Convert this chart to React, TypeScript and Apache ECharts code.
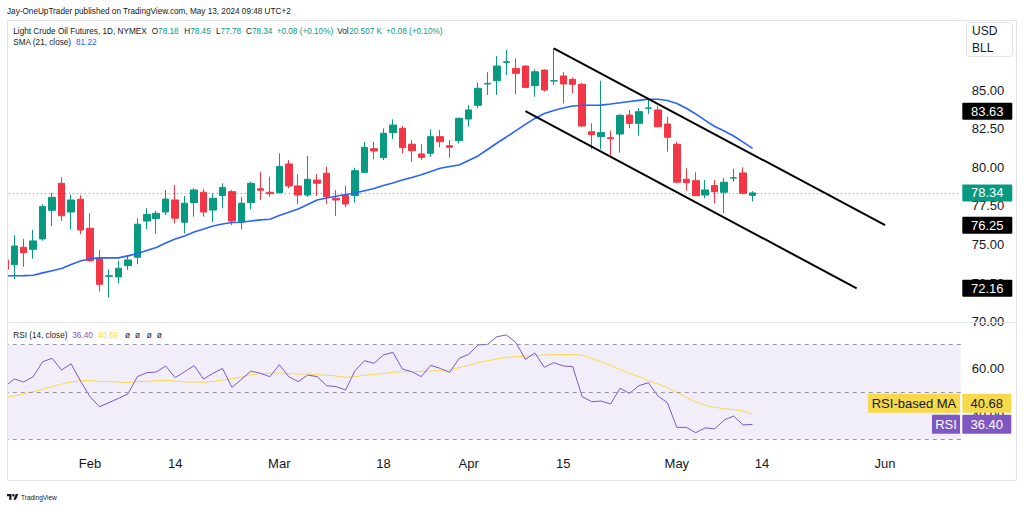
import React, { useEffect, useRef } from 'react';
import * as echarts from 'echarts';

const FONT = "'Liberation Sans', Arial, sans-serif";
const DARK = '#131722';
const UP = '#089981';
const DOWN = '#F23645';
const SMA_COLOR = '#2962FF';
const RSI_COLOR = '#7E57C2';
const RSI_MA_COLOR = '#F7D94C';

const dates = ['Jan 19','Jan 22','Jan 23','Jan 24','Jan 25','Jan 26','Jan 29','Jan 30','Jan 31','Feb 1','Feb 2','Feb 5','Feb 6','Feb 7','Feb 8','Feb 9','Feb 12','Feb 13','Feb 14','Feb 15','Feb 16','Feb 20','Feb 21','Feb 22','Feb 23','Feb 26','Feb 27','Feb 28','Feb 29','Mar 1','Mar 4','Mar 5','Mar 6','Mar 7','Mar 8','Mar 11','Mar 12','Mar 13','Mar 14','Mar 15','Mar 18','Mar 19','Mar 20','Mar 21','Mar 22','Mar 25','Mar 26','Mar 27','Mar 28','Apr 1','Apr 2','Apr 3','Apr 4','Apr 5','Apr 8','Apr 9','Apr 10','Apr 11','Apr 12','Apr 15','Apr 16','Apr 17','Apr 18','Apr 19','Apr 22','Apr 23','Apr 24','Apr 25','Apr 26','Apr 29','Apr 30','May 1','May 2','May 3','May 6','May 7','May 8','May 9','May 10','May 13','May 14','May 15','May 16','May 17','May 20','May 21','May 22','May 23','May 24','May 28','May 29','May 30','May 31','Jun 3','Jun 4','Jun 5','Jun 6','Jun 7','Jun 10','Jun 11','Jun 12','Jun 13'];

const opens = [74.00,73.69,74.82,74.69,75.36,77.21,78.96,77.10,77.93,76.05,74.11,72.94,72.90,73.63,74.17,76.52,76.67,77.10,77.88,76.44,77.71,78.38,77.23,78.16,78.42,76.48,77.71,78.61,78.38,78.35,80.21,78.79,78.20,79.17,79.61,77.99,78.18,78.16,79.67,81.20,80.62,82.24,82.52,81.49,80.86,80.90,81.98,81.39,81.72,83.12,84.01,85.39,85.60,86.79,86.40,86.55,85.28,86.29,85.58,85.91,85.69,85.37,82.30,81.98,81.91,82.15,83.38,82.84,83.82,83.71,82.80,81.49,79.22,79.13,78.20,78.81,78.38,79.30,79.63,78.18];
const highs = [74.25,75.60,75.36,75.94,77.60,78.35,79.35,78.22,78.19,77.02,74.64,73.39,73.95,74.32,76.70,77.34,77.19,78.53,78.85,78.14,78.64,78.59,78.31,78.96,78.53,78.09,79.07,79.71,79.39,80.90,80.47,79.54,80.73,79.56,80.04,78.53,78.79,79.97,81.65,81.65,82.52,83.10,82.67,81.76,81.49,82.46,82.41,81.76,83.20,84.03,85.47,86.15,87.20,87.59,87.05,86.60,86.34,86.34,87.70,86.15,85.80,85.47,82.84,85.60,82.37,83.45,83.71,83.82,84.35,83.96,83.27,81.65,79.93,79.67,79.17,79.17,79.32,79.89,79.99,78.45];
const lows = [73.20,72.75,73.56,74.08,75.25,76.20,76.52,75.98,75.66,73.87,71.95,71.58,72.49,73.35,73.72,76.00,75.68,76.91,76.37,75.72,76.80,76.80,76.44,77.34,76.26,75.98,77.28,77.88,78.09,78.30,78.64,77.62,78.09,78.14,77.62,76.84,77.41,77.71,79.61,80.53,80.47,81.83,80.90,80.36,80.47,80.68,81.29,80.62,81.55,82.62,83.82,84.68,84.68,85.97,84.72,85.11,84.57,84.89,85.32,84.14,84.79,82.59,81.16,81.16,80.79,80.94,82.52,82.04,83.45,82.59,81.01,78.96,78.48,78.14,77.99,77.67,77.02,79.06,78.25,77.78];
const closes = [73.40,74.90,74.47,75.23,77.45,78.05,76.86,77.88,75.94,73.95,72.42,72.97,73.46,74.00,76.31,76.95,77.02,77.94,76.70,77.67,78.53,77.10,77.99,78.68,76.52,77.67,78.96,78.51,78.29,80.04,78.79,78.20,79.22,78.96,78.09,77.88,77.62,79.78,81.29,81.05,82.20,82.73,81.27,81.07,80.64,81.98,81.65,81.29,83.17,83.71,85.11,85.43,86.55,86.83,86.08,85.17,86.18,85.00,85.60,85.39,85.37,82.67,82.11,82.24,81.85,83.36,82.84,83.60,83.84,82.62,81.94,79.03,79.00,78.16,78.53,78.42,79.03,79.32,78.31,78.34];
const volume = '20.507 K';

const sma21 = [72.96,72.97,72.98,73.01,73.16,73.30,73.44,73.70,73.93,74.08,74.13,74.13,74.13,74.26,74.42,74.61,74.81,75.10,75.36,75.55,75.81,76.00,76.20,76.33,76.42,76.44,76.52,76.59,76.63,76.88,77.08,77.30,77.59,77.88,78.01,78.12,78.23,78.33,78.48,78.62,78.82,78.98,79.17,79.34,79.52,79.72,79.93,80.05,80.15,80.44,80.73,81.15,81.57,81.96,82.37,82.77,83.16,83.48,83.67,83.83,83.96,84.01,84.01,84.02,84.09,84.18,84.26,84.33,84.40,84.40,84.32,84.13,83.82,83.45,83.03,82.64,82.35,82.02,81.63,81.22];

const rsi14 = [52.25,55.47,54.21,56.46,62.77,64.18,59.26,61.93,54.60,48.03,43.82,45.51,47.33,49.16,56.46,58.14,58.42,60.95,56.04,58.56,61.09,55.47,57.86,59.96,51.96,55.33,58.84,57.86,56.46,61.51,56.46,54.35,57.16,56.46,52.67,52.25,50.84,58.98,63.19,62.07,65.58,66.70,59.68,58.56,56.46,61.23,59.96,58.28,64.18,65.86,69.79,70.07,73.30,74.00,70.77,63.75,66.42,60.39,62.35,60.95,60.67,48.03,45.93,46.21,44.95,51.54,49.44,52.67,53.93,48.32,45.51,35.12,35.12,32.88,34.90,34.50,38.21,39.89,36.11,36.40];
const rsiMa = [47.61,48.32,49.16,50.14,51.12,52.25,53.37,54.21,54.77,54.91,54.49,54.35,54.21,53.93,54.35,54.49,54.77,54.91,54.63,54.21,54.21,54.07,54.49,55.05,55.61,56.32,57.30,57.72,57.86,58.00,57.72,57.58,57.58,57.30,57.02,56.74,56.18,56.46,57.02,57.44,57.72,58.28,58.56,58.56,58.70,58.84,58.98,59.40,60.25,61.23,62.35,63.19,63.89,64.60,64.88,65.16,65.30,65.58,65.72,65.72,65.86,65.44,64.18,62.77,61.09,59.54,57.86,56.46,54.77,53.37,51.82,49.86,47.75,45.79,44.39,43.54,42.98,42.56,42.00,40.68];

const xTickLabels: Record<string, string> = { 'Feb 1': 'Feb', 'Feb 14': '14', 'Mar 1': 'Mar', 'Mar 18': '18', 'Apr 1': 'Apr', 'Apr 15': '15', 'May 1': 'May', 'May 14': '14', 'Jun 3': 'Jun' };
const priceTicks = [70, 72.5, 75, 77.5, 80, 82.5, 85];
const rsiTicks = [40, 60];
const rsiBands = [70, 50, 30];
const upperChannel: [string, number][] = [['Apr 12', 87.70], ['Jun 3', 76.25]];
const lowerChannel: [string, number][] = [['Apr 9', 83.63], ['May 29', 72.16]];
const channelLabels = [83.63, 76.25, 72.16];

const last = closes.length - 1;
const fmt = (v: number) => v.toFixed(2);

export default function App() {
  const ref = useRef<HTMLDivElement>(null);
  useEffect(() => {
    if (!ref.current) return;
    try {
      echarts.graphic.registerShape('tvlogo', echarts.graphic.extendPath('M14 22H7V11H0V4h14v18zM28 22h-8l7.5-18h8L28 22zM16 8a4 4 0 1 0 8 0a4 4 0 1 0 -8 0z', {}));
    } catch (e) { /* already registered */ }
    const chart = echarts.init(ref.current, null, { renderer: 'svg' });
    const gridLeft = 4.8;
    const gridWidth = 956;
    const candles = opens.map((o, i) => [o, closes[i], lows[i], highs[i]]);
    const chan = (arr: [string, number][]) => arr.map(([d, v]) => [dates.indexOf(d), v]);
    const near = (arr: number[], v: number) => arr.some((t) => Math.abs(t - v) < 1e-6);

    chart.setOption({
      animation: false,
      backgroundColor: '#ffffff',
      grid: [
        { left: gridLeft, top: 12.77, width: gridWidth, height: 308.93, containLabel: false, outerBoundsMode: 'none' },
        { left: gridLeft, top: 320.75, width: gridWidth, height: 130.63, containLabel: false, outerBoundsMode: 'none' },
      ],
      xAxis: [
        { type: 'category', gridIndex: 0, data: dates, boundaryGap: false, show: false },
        {
          type: 'category', gridIndex: 1, data: dates, boundaryGap: false,
          axisLine: { show: false }, axisTick: { show: false }, splitLine: { show: false },
          axisLabel: {
            interval: (_i: number, v: string) => xTickLabels[v] !== undefined,
            formatter: (v: string) => xTickLabels[v] ?? '',
            color: DARK, fontSize: 13, fontFamily: FONT, margin: 6,
          },
        },
      ],
      yAxis: [
        {
          type: 'value', gridIndex: 0, position: 'right', min: 70, max: 90, interval: 2.5,
          axisLine: { show: false }, axisTick: { show: false }, splitLine: { show: false },
          axisLabel: { formatter: (v: number) => (near(priceTicks, v) ? fmt(v) : ''), color: DARK, fontSize: 13, fontFamily: FONT, margin: 11 },
        },
        {
          type: 'value', gridIndex: 1, position: 'right', min: 25, max: 80, interval: 5,
          axisLine: { show: false }, axisTick: { show: false }, splitLine: { show: false },
          axisLabel: { formatter: (v: number) => (near(rsiTicks, v) ? fmt(v) : ''), color: DARK, fontSize: 13, fontFamily: FONT, margin: 11 },
        },
      ],
      series: [
        {
          type: 'candlestick', xAxisIndex: 0, yAxisIndex: 0, data: candles, barWidth: 7,
          itemStyle: { color: UP, color0: DOWN, borderColor: UP, borderColor0: DOWN, borderWidth: 1 },
          markLine: {
            silent: true, symbol: ['none', 'none'], label: { show: false },
            lineStyle: { color: UP, type: [1, 3], width: 1, opacity: 0.8 },
            data: [{ yAxis: closes[last] }],
          },
        },
        { type: 'line', xAxisIndex: 0, yAxisIndex: 0, data: sma21, symbol: 'none', lineStyle: { color: SMA_COLOR, width: 1.6 }, z: 3 },
        { type: 'line', xAxisIndex: 0, yAxisIndex: 0, data: chan(upperChannel), symbol: 'none', lineStyle: { color: '#000000', width: 2 }, z: 4 },
        { type: 'line', xAxisIndex: 0, yAxisIndex: 0, data: chan(lowerChannel), symbol: 'none', lineStyle: { color: '#000000', width: 2 }, z: 4 },
        {
          type: 'line', xAxisIndex: 1, yAxisIndex: 1, data: rsiMa, symbol: 'none', lineStyle: { color: RSI_MA_COLOR, width: 1 }, z: 3,
        },
        {
          type: 'line', xAxisIndex: 1, yAxisIndex: 1, data: rsi14, symbol: 'none', lineStyle: { color: RSI_COLOR, width: 1 }, z: 4,
          markArea: { silent: true, itemStyle: { color: 'rgba(126,87,194,0.1)' }, data: [[{ yAxis: 30 }, { yAxis: 70 }]] },
          markLine: {
            silent: true, symbol: ['none', 'none'], label: { show: false },
            lineStyle: { color: '#9598A1', type: [4, 4], width: 1 },
            data: rsiBands.map((v) => ({ yAxis: v })),
          },
        },
      ],
    });

    const py = (v: number, idx: number) => chart.convertToPixel({ yAxisIndex: idx } as any, v) as number;
    const bx = gridLeft + gridWidth + 1.5;
    const txt = (x: number, y: number, text: string, fill: string, size = 8.2, align = 'left', weight = 'normal') => ({
      type: 'text', x, y, z: 100,
      style: { text, fill, fontSize: size, fontFamily: FONT, align, verticalAlign: 'middle', fontWeight: weight },
    });
    const box = (x: number, y: number, w: number, h: number, fill: string) => ({
      type: 'rect', z: 99, shape: { x, y, width: w, height: h, r: 1 }, style: { fill },
    });
    const priceBox = (v: number, fill: string) => {
      const y = py(v, 0);
      return [box(bx, y - 8.5, 50, 17, fill), txt(bx + 25, y, fmt(v), '#ffffff', 13, 'center')];
    };

    const rsiY = py(rsi14[last], 1);
    const maYc = py(rsiMa[last], 1);
    const rsiTop = rsiY - 9.5;
    const maBottom = Math.min(maYc + 9.5, rsiTop - 2);

    const graphic: any[] = [
      { type: 'rect', z: 90, shape: { x: 0, y: 20, width: 7, height: 461 }, style: { fill: '#ffffff' } },
      { type: 'rect', z: 91, shape: { x: 7.5, y: 20.5, width: 1009, height: 460 }, style: { fill: 'none', stroke: '#E0E3EB', lineWidth: 1 } },
      { type: 'line', z: 91, shape: { x1: 7, y1: 322.5, x2: 1017, y2: 322.5 }, style: { stroke: '#E0E3EB', lineWidth: 1 } },
      txt(7, 11, 'Jay-OneUpTrader published on TradingView.com, May 13, 2024 09:48 UTC+2', DARK),
      txt(13.3, 31, 'Light Crude Oil Futures, 1D, NYMEX', DARK),
      txt(151.7, 31, 'O', DARK), txt(158.1, 31, fmt(opens[last]), UP),
      txt(184.3, 31, 'H', DARK), txt(190.2, 31, fmt(highs[last]), UP),
      txt(216, 31, 'L', DARK), txt(220.6, 31, fmt(lows[last]), UP),
      txt(246, 31, 'C', DARK), txt(251.9, 31, fmt(closes[last]), UP),
      txt(276.7, 31, '+0.08 (+0.10%)', UP),
      txt(337.3, 31, 'Vol', DARK), txt(349.2, 31, volume, UP),
      txt(386, 31, '+0.08 (+0.10%)', UP),
      txt(13.3, 42.3, 'SMA (21, close)', DARK), txt(76, 42.3, fmt(sma21[last]), SMA_COLOR),
      txt(13.3, 335, 'RSI (14, close)', DARK), txt(72.3, 335, fmt(rsi14[last]), RSI_COLOR), txt(97.7, 335, fmt(rsiMa[last]), RSI_MA_COLOR),
      txt(125, 335, 'ø', DARK), txt(135, 335, 'ø', DARK), txt(146.7, 335, 'ø', DARK), txt(156.7, 335, 'ø', DARK),
      { type: 'rect', z: 99, shape: { x: 966.5, y: 22.5, width: 46, height: 34, r: 3 }, style: { fill: '#ffffff', stroke: '#E0E3EB', lineWidth: 1 } },
      txt(972, 31, 'USD', DARK, 12), txt(972, 48.3, 'BLL', DARK, 12),
      ...priceBox(closes[last], UP),
      ...channelLabels.flatMap((v) => priceBox(v, '#000000')),
      box(868, maBottom - 19, 92, 19, RSI_MA_COLOR), txt(914, maBottom - 9.5, 'RSI-based MA', DARK, 13, 'center'),
      box(bx, maBottom - 19, 49, 19, RSI_MA_COLOR), txt(bx + 24.5, maBottom - 9.5, fmt(rsiMa[last]), DARK, 13, 'center'),
      box(932, rsiTop, 28, 19, RSI_COLOR), txt(946, rsiY, 'RSI', '#ffffff', 13, 'center'),
      box(bx, rsiTop, 49, 19, RSI_COLOR), txt(bx + 24.5, rsiY, fmt(rsi14[last]), '#ffffff', 13, 'center'),
      { type: 'tvlogo', z: 100, x: 7, y: 492.8, scaleX: 0.32, scaleY: 0.32, style: { fill: DARK } },
      txt(21, 497, 'TradingView', DARK, 6.5),
    ];
    chart.setOption({ graphic });
    return () => chart.dispose();
  }, []);
  return <div ref={ref} style={{ position: 'fixed', left: 0, top: 0, width: 1024, height: 506, background: '#ffffff' }} />;
}
